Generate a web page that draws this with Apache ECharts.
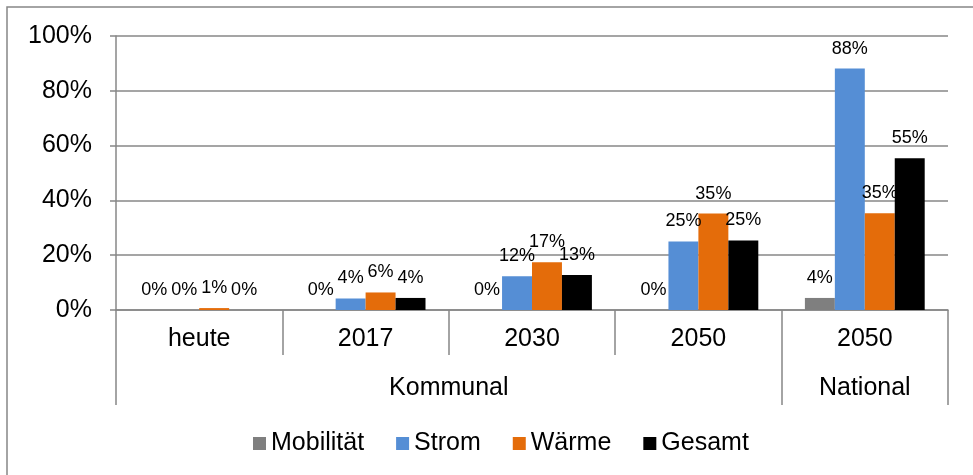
<!DOCTYPE html>
<html>
<head>
<meta charset="utf-8">
<script src="https://cdn.jsdelivr.net/npm/echarts@6/dist/echarts.min.js"></script>
<style>
html,body{margin:0;padding:0;background:#fff;}
#chart{width:973px;height:475px;}
</style>
</head>
<body>
<div id="chart"></div>
<script>
const categories = ['heute', '2017', '2030', '2050', '2050'];
const groups = ['Kommunal', 'National'];
const groupBounds = [0, 4, 5];
const groupCenters = [2, 4.5];
const seriesNames = ['Mobilität', 'Strom', 'Wärme', 'Gesamt'];
const mobilitaet = [0, 0, 0, 0, 4.4];
const strom = [0, 4.2, 12.3, 25.0, 88.1];
const waerme = [0.7, 6.4, 17.4, 35.2, 35.3];
const gesamt = [0, 4.4, 12.8, 25.4, 55.4];
const yTicks = [0, 20, 40, 60, 80, 100];

const colors = ['#7f7f7f', '#558ed5', '#e46c0a', '#000000'];
const FONT = '"Liberation Sans", Arial, sans-serif';
const GRAY = '#878787';

const chart = echarts.init(document.getElementById('chart'), null, {renderer: 'canvas'});
const values = [mobilitaet, strom, waerme, gesamt];

const option = {
  animation: false,
  color: colors,
  textStyle: {fontFamily: FONT},
  graphic: [{
    type: 'rect',
    shape: {x: 7, y: 7, width: 1000, height: 500},
    style: {fill: 'none', stroke: GRAY, lineWidth: 1.5},
    silent: true, z: -10
  }],
  grid: {left: 116, right: 25, top: 36, bottom: 165, containLabel: false},
  legend: {
    data: seriesNames,
    left: 248, top: 426,
    icon: 'rect', itemWidth: 13, itemHeight: 13, itemGap: 32,
    textStyle: {fontFamily: FONT, fontSize: 25, color: '#000'}
  },
  xAxis: [{
    type: 'category',
    data: categories,
    position: 'bottom',
    axisLine: {show: true, lineStyle: {color: GRAY, width: 1.5}},
    axisTick: {show: true, interval: 0, length: 45, alignWithLabel: false, lineStyle: {color: GRAY, width: 1.5}},
    axisLabel: {interval: 0, margin: 17, fontSize: 25, color: '#000', fontFamily: FONT},
    splitLine: {show: false}
  }, {
    type: 'value',
    position: 'bottom',
    offset: 45,
    min: 0, max: 5,
    axisLine: {show: false},
    axisTick: {show: true, customValues: groupBounds, length: 50, lineStyle: {color: GRAY, width: 1.5}},
    axisLabel: {
      customValues: groupCenters, margin: 21, fontSize: 25, color: '#000', fontFamily: FONT,
      formatter: function (v) { return groups[groupCenters.indexOf(v)]; }
    },
    splitLine: {show: false}
  }],
  yAxis: {
    type: 'value',
    min: yTicks[0], max: yTicks[yTicks.length - 1], interval: 20,
    axisLine: {show: true, lineStyle: {color: GRAY, width: 1.5}},
    axisTick: {show: true, length: 6, lineStyle: {color: GRAY, width: 1.5}},
    axisLabel: {margin: 24, fontSize: 25, color: '#000', fontFamily: FONT, formatter: '{value}%'},
    splitLine: {show: true, lineStyle: {color: GRAY, width: 1.5}}
  },
  series: seriesNames.map(function (name, i) {
    return {
      name: name,
      type: 'bar',
      xAxisIndex: 0,
      data: values[i],
      barGap: '0%',
      barCategoryGap: '28%',
      itemStyle: {color: colors[i]},
      label: {
        show: true, position: 'top', distance: 11,
        fontSize: 18, color: '#000', fontFamily: FONT,
        formatter: function (p) { return Math.round(p.value) + '%'; }
      }
    };
  })
};
chart.setOption(option);
</script>
</body>
</html>
